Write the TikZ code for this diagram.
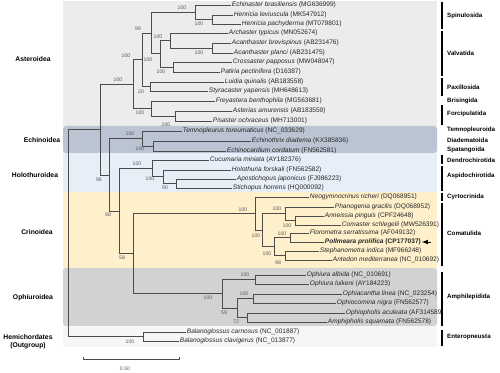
\documentclass[tikz,border=0pt]{standalone}
\usepackage{fontspec}
\setmainfont{Liberation Sans}
\definecolor{fondast}{HTML}{ECECEC}
\definecolor{fondech}{HTML}{BAC4D2}
\definecolor{fondhol}{HTML}{E8EEF8}
\definecolor{fondcri}{HTML}{FDF0CB}
\definecolor{fondoph}{HTML}{D2D2D2}
\definecolor{fondhem}{HTML}{F6F6F6}
\begin{document}
\begin{tikzpicture}[x=0.03cm,y=-0.03cm,
  br/.style={draw=black!70,line width=0.45pt},
  taxon/.style={anchor=west,inner sep=0.6pt,font=\fontsize{5.6}{6}\selectfont,text=black!85},
  bs/.style={inner sep=0pt,font=\fontsize{4.4}{5}\selectfont,text=black!65},
  ordre/.style={anchor=west,inner sep=0pt,font=\fontsize{5.3}{6}\selectfont\bfseries},
  classe/.style={inner sep=0pt,font=\fontsize{5.8}{7}\selectfont\bfseries,align=center},
  barre/.style={line width=0.9pt}]

\useasboundingbox (0,0) rectangle (500,373);

% Fonds
\fill[fondast] (63,1) rectangle (437,126);
\fill[fondech,rounded corners=0.8mm] (63,126) rectangle (437,153);
\fill[fondhol] (63,153) rectangle (437,192);
\fill[fondcri] (63,192) rectangle (437,268);
\fill[fondoph,rounded corners=0.8mm] (63,268) rectangle (437,326);
\fill[fondhem] (63,326) rectangle (437,347);

% Classes
\node[classe] (cAst) at (33,59) {Asteroidea};
\node[classe] (cEch) at (42,140) {Echinoidea};
\node[classe] (cHol) at (35,175) {Holothuroidea};
\node[classe] (cCri) at (37,232) {Crinoidea};
\node[classe] (cOph) at (33,298) {Ophiuroidea};
\node[classe] (cHem) at (28,342) {Hemichordates\\(Outgroup)};

% Taxons
\node[taxon] (l1) at (231,5) {\textit{Echinaster brasiliensis} (MG636999)};
\node[taxon] (l2) at (233,15) {\textit{Henricia leviuscula} (MK547912)};
\node[taxon] (l3) at (241,24) {\textit{Henricia pachyderma} (MT079801)};
\node[taxon] (l4) at (228,33) {\textit{Archaster typicus} (MN052674)};
\node[taxon] (l5) at (231,43) {\textit{Acanthaster brevispinus} (AB231476)};
\node[taxon] (l6) at (233,53) {\textit{Acanthaster planci} (AB231475)};
\node[taxon] (l7) at (232,62) {\textit{Crossaster papposus} (MW048047)};
\node[taxon] (l8) at (220,72) {\textit{Patiria pectinifera} (D16387)};
\node[taxon] (l9) at (224,82) {\textit{Luidia quinalis} (AB183558)};
\node[taxon] (l10) at (208,91) {\textit{Styracaster yapensis} (MH648613)};
\node[taxon] (l11) at (215,101) {\textit{Freyastera benthophila} (MG563681)};
\node[taxon] (l12) at (232,111) {\textit{Asterias amurensis} (AB183559)};
\node[taxon] (l13) at (212,121) {\textit{Pisaster ochraceus} (MH713001)};
\node[taxon] (l14) at (182,131) {\textit{Temnopleurus toreumaticus} (NC\_033629)};
\node[taxon] (l15) at (251,141) {\textit{Echinothrix diadema} (KX385836)};
\node[taxon] (l16) at (226,151) {\textit{Echinocardium cordatum} (FN562581)};
\node[taxon] (l17) at (209,160) {\textit{Cucumaria miniata} (AY182376)};
\node[taxon] (l18) at (231,170) {\textit{Holothuria forskali} (FN562582)};
\node[taxon] (l19) at (236,179) {\textit{Apostichopus japonicus} (FJ986223)};
\node[taxon] (l20) at (232,188) {\textit{Stichopus horrens} (HQ000092)};
\node[taxon] (l21) at (309,197) {\textit{Neogymnocrinus richeri} (DQ068951)};
\node[taxon] (l22) at (334,207) {\textit{Phanogenia gracilis} (DQ068952)};
\node[taxon] (l23) at (324,216) {\textit{Anneissia pinguis} (CPF24648)};
\node[taxon] (l24) at (341,225) {\textit{Comaster schlegelii} (MW526391)};
\node[taxon] (l25) at (309,233) {\textit{Florometra serratissima} (AF049132)};
\node[taxon,font=\fontsize{5.6}{6}\selectfont\bfseries] (l26) at (324,242) {\textit{Pollmeara prolifica} (CP177037)};
\node[taxon] (l27) at (319,251) {\textit{Stephanometra indica} (MF966248)};
\node[taxon] (l28) at (332,260) {\textit{Antedon mediterranea} (NC\_010692)};
\node[taxon] (l29) at (306,275) {\textit{Ophiura albida} (NC\_010691)};
\node[taxon] (l30) at (309,284) {\textit{Ophiura luikeni} (AY184223)};
\node[taxon] (l31) at (342,294) {\textit{Ophiacantha linea} (NC\_023254)};
\node[taxon] (l32) at (336,303) {\textit{Ophiocomina nigra} (FN562577)};
\node[taxon] (l33) at (345,313) {\textit{Ophiopholis aculeata} (AF314589)};
\node[taxon] (l34) at (327,322) {\textit{Amphipholis squamata} (FN562578)};
\node[taxon] (l35) at (186,332) {\textit{Balanoglossus carnosus} (NC\_001887)};
\node[taxon] (l36) at (179,341) {\textit{Balanoglossus clavigerus} (NC\_013877)};

% Flèche
\path (l26.east) ++(9,0) coordinate (fl);
\draw[-latex,line width=0.8pt] (fl) -- (l26.east);

% Noeuds
\coordinate (henr) at (212,19.5);
\coordinate (spin) at (195,12.25);
\coordinate (acan) at (212,48);
\coordinate (valA) at (170,40.5);
\coordinate (valC) at (173,67);
\coordinate (valv) at (160,53.75);
\coordinate (sv) at (151,33);
\coordinate (pax) at (150,86.5);
\coordinate (au) at (142,59.75);
\coordinate (forc) at (175,116);
\coordinate (bf) at (151,108.5);
\coordinate (ast) at (133,84.1);
\coordinate (ee) at (153,146);
\coordinate (ech) at (142,138.5);
\coordinate (hs) at (176,183.5);
\coordinate (ha) at (163,176.75);
\coordinate (hol) at (152,168.4);
\coordinate (ac) at (295,220.5);
\coordinate (pac) at (285,213.75);
\coordinate (fp) at (290,237.5);
\coordinate (sa) at (285,255.5);
\coordinate (fpsa) at (274,246.5);
\coordinate (com) at (262,230.1);
\coordinate (cri) at (255,213.6);
\coordinate (oa) at (255,279.5);
\coordinate (oc) at (253,298.5);
\coordinate (oa2) at (247,317.5);
\coordinate (ooo) at (237,308);
\coordinate (oph) at (222,293.75);
\coordinate (co) at (133,253.7);
\coordinate (hco) at (119,211);
\coordinate (rest) at (109,174.8);
\coordinate (echi) at (100,129.5);
\coordinate (bal) at (143,336.5);
\coordinate (root) at (68,233);

% Arbre
\draw[br] (root) |- (echi) (root) |- (bal);
\draw[br] (echi) |- (ast) (echi) |- (rest);
\draw[br] (ast) |- (au) (ast) |- (bf);
\draw[br] (au) |- (sv) (au) |- (pax);
\draw[br] (sv) |- (spin) (sv) |- (valv);
\draw[br] (spin) |- (l1.west) (spin) |- (henr);
\draw[br] (henr) |- (l2.west) (henr) |- (l3.west);
\draw[br] (valv) |- (valA) (valv) |- (valC);
\draw[br] (valA) |- (l4.west) (valA) |- (acan);
\draw[br] (acan) |- (l5.west) (acan) |- (l6.west);
\draw[br] (valC) |- (l7.west) (valC) |- (l8.west);
\draw[br] (pax) |- (l9.west) (pax) |- (l10.west);
\draw[br] (bf) |- (l11.west) (bf) |- (forc);
\draw[br] (forc) |- (l12.west) (forc) |- (l13.west);
\draw[br] (rest) |- (ech) (rest) |- (hco);
\draw[br] (ech) |- (l14.west) (ech) |- (ee);
\draw[br] (ee) |- (l15.west) (ee) |- (l16.west);
\draw[br] (hco) |- (hol) (hco) |- (co);
\draw[br] (hol) |- (l17.west) (hol) |- (ha);
\draw[br] (ha) |- (l18.west) (ha) |- (hs);
\draw[br] (hs) |- (l19.west) (hs) |- (l20.west);
\draw[br] (co) |- (cri) (co) |- (oph);
\draw[br] (cri) |- (l21.west) (cri) |- (com);
\draw[br] (com) |- (pac) (com) |- (fpsa);
\draw[br] (pac) |- (l22.west) (pac) |- (ac);
\draw[br] (ac) |- (l23.west) (ac) |- (l24.west);
\draw[br] (fpsa) |- (fp) (fpsa) |- (sa);
\draw[br] (fp) |- (l25.west) (fp) |- (l26.west);
\draw[br] (sa) |- (l27.west) (sa) |- (l28.west);
\draw[br] (oph) |- (oa) (oph) |- (ooo);
\draw[br] (oa) |- (l29.west) (oa) |- (l30.west);
\draw[br] (ooo) |- (oc) (ooo) |- (oa2);
\draw[br] (oc) |- (l31.west) (oc) |- (l32.west);
\draw[br] (oa2) |- (l33.west) (oa2) |- (l34.west);
\draw[br] (bal) |- (l35.west) (bal) |- (l36.west);

% Bootstrap
\node[bs] (bSpin) at (182,8) {100};
\node[bs] (bHenr) at (199,24) {100};
\node[bs] (bSv) at (138,29) {99};
\node[bs] (bValA) at (158,37) {100};
\node[bs] (bAcan) at (199,53) {100};
\node[bs] (bAu) at (126,56) {100};
\node[bs] (bValv) at (148,60) {100};
\node[bs] (bValC) at (161,72) {100};
\node[bs] (bAst) at (118,80) {100};
\node[bs] (bPax) at (141,92) {20};
\node[bs] (bBf) at (140,113) {100};
\node[bs] (bForc) at (166,125) {100};
\node[bs] (bEch) at (130,134) {100};
\node[bs] (bEe) at (140,149) {100};
\node[bs] (bHol) at (137,164) {100};
\node[bs] (bHa) at (150,179) {100};
\node[bs] (bHs) at (165,188) {90};
\node[bs] (bRest) at (99,180) {96};
\node[bs] (bHco) at (108,215) {98};
\node[bs] (bCo) at (122,258) {58};
\node[bs] (bCri) at (243,210) {100};
\node[bs] (bPac) at (277,209) {100};
\node[bs] (bAc) at (287,226) {100};
\node[bs] (bCom) at (256,236) {100};
\node[bs] (bFp) at (282,234) {100};
\node[bs] (bFpsa) at (267,254) {100};
\node[bs] (bSa) at (278,263) {98};
\node[bs] (bOa) at (245,275) {100};
\node[bs] (bOc) at (244,294) {100};
\node[bs] (bOph) at (208,298) {100};
\node[bs] (bOoo) at (224,313) {59};
\node[bs] (bOa2) at (236,322) {72};
\node[bs] (bBal) at (130,342) {100};

% Ordres
\draw[barre] (442,2) -- (442,29);
\node[ordre] (oSpin) at (447,16) {Spinulosida};
\draw[barre] (442,31) -- (442,76);
\node[ordre] (oValv) at (447,53) {Valvatida};
\draw[barre] (442,78) -- (442,96);
\node[ordre] (oPax) at (447,87) {Paxillosida};
\node[ordre] (oBris) at (447,101) {Brisingida};
\draw[barre] (442,105) -- (442,125);
\node[ordre] (oForc) at (447,114) {Forcipulatida};
\node[ordre] (oTemn) at (447,130) {Temnopleuroida};
\node[ordre] (oDiad) at (447,140) {Diadematoida};
\node[ordre] (oSpat) at (447,150) {Spatangoida};
\draw[barre] (442,155) -- (442,164);
\node[ordre] (oDend) at (447,160) {Dendrochirotida};
\draw[barre] (442,166) -- (442,191);
\node[ordre] (oAspi) at (447,176) {Aspidochirotida};
\draw[barre] (442,193) -- (442,201);
\node[ordre] (oCyrt) at (447,197) {Cyrtocrinida};
\draw[barre] (442,203) -- (442,266);
\node[ordre] (oComa) at (447,233) {Comatulida};
\draw[barre] (442,272) -- (442,326);
\node[ordre] (oAmph) at (447,297) {Amphilepidida};
\draw[barre] (442,330) -- (442,346);
\node[ordre] (oEnte) at (447,337) {Enteropneusta};

% Echelle
\draw[br] (83,357.5) -- (83,360.5) (83,359) -- (179,359) (179,357.5) -- (179,360.5);
\node[bs] (ech050) at (125,369) {0.50};

\end{tikzpicture}
\end{document}
